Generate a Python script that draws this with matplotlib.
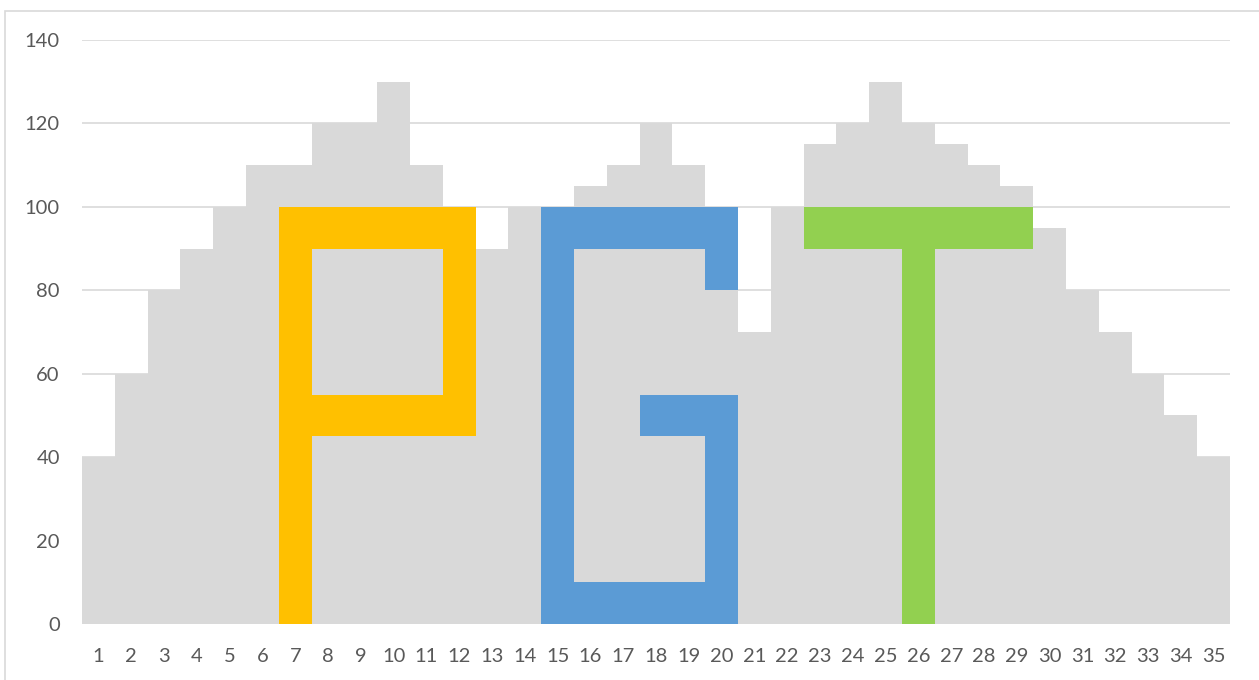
import matplotlib
matplotlib.use("Agg")
import matplotlib.pyplot as plt
from matplotlib.patches import Rectangle
import numpy as np

categories = [str(i) for i in range(1, 36)]

# Stacked layers (bottom to top); layers B, D, F are the coloured letter segments
layer_a = [40, 60, 80, 90, 100, 110, 0, 45, 45, 45, 45, 45, 90, 100, 0, 0, 0, 0, 0, 0,
           70, 100, 90, 90, 90, 0, 90, 90, 90, 95, 80, 70, 60, 50, 40]
layer_b = [0, 0, 0, 0, 0, 0, 100, 10, 10, 10, 10, 55, 0, 0, 100, 10, 10, 10, 10, 55,
           0, 0, 10, 10, 10, 100, 10, 10, 10, 0, 0, 0, 0, 0, 0]
layer_c = [0, 0, 0, 0, 0, 0, 10, 35, 35, 35, 35, 0, 0, 0, 0, 80, 80, 35, 35, 25,
           0, 0, 15, 20, 30, 20, 15, 10, 5, 0, 0, 0, 0, 0, 0]
layer_d = [0, 0, 0, 0, 0, 0, 0, 10, 10, 10, 10, 0, 0, 0, 0, 10, 10, 10, 10, 20,
           0, 0, 0, 0, 0, 0, 0, 0, 0, 0, 0, 0, 0, 0, 0]
layer_e = [0, 0, 0, 0, 0, 0, 0, 20, 20, 30, 10, 0, 0, 0, 0, 5, 10, 35, 35, 0,
           0, 0, 0, 0, 0, 0, 0, 0, 0, 0, 0, 0, 0, 0, 0]
layer_f = [0] * 17 + [10, 10] + [0] * 16
layer_g = [0] * 17 + [20, 10] + [0] * 16

# letter colour per bar: P (7-12), G (15-20), T (23-29)
letter = ['-'] * 6 + ['P'] * 6 + ['-'] * 2 + ['G'] * 6 + ['-'] * 2 + ['T'] * 7 + ['-'] * 6

GRAY = '#d9d9d9'
letter_colors = {'P': '#ffc000', 'G': '#5b9bd5', 'T': '#92d050', '-': GRAY}
bar_letter_colors = [letter_colors[l] for l in letter]

fig = plt.figure(figsize=(12.59, 6.8), dpi=100)
ax = fig.add_axes([82 / 1259, 1 - 624 / 680, (1230 - 82) / 1259, (624 - 40) / 680])

x = np.arange(1, 36)
layers = [layer_a, layer_b, layer_c, layer_d, layer_e, layer_f, layer_g]
colored = [False, True, False, True, False, True, False]
bottom = np.zeros(35)
for vals, is_col in zip(layers, colored):
    vals = np.array(vals, dtype=float)
    cols = bar_letter_colors if is_col else GRAY
    ax.bar(x, vals, bottom=bottom, width=1.0, color=cols,
           linewidth=0, zorder=2)
    bottom += vals

ax.set_xlim(0.5, 35.5)
ax.set_ylim(0, 140)
ax.set_yticks(range(0, 141, 20))
ax.set_xticks(x)
ax.set_xticklabels(categories)
ax.yaxis.grid(True, color='#d9d9d9', linewidth=1.2, zorder=0)
ax.set_axisbelow(True)
for s in ax.spines.values():
    s.set_visible(False)
ax.tick_params(axis='both', length=0, labelsize=14.5, colors='#595959',
               labelfontfamily='Lato')
ax.tick_params(axis='x', pad=17)
ax.tick_params(axis='y', pad=16)

# chart-area border
fig.patches.append(Rectangle((5 / 1259, -0.05), 1.2, 1 - 11 / 680 + 0.05,
                             transform=fig.transFigure, fill=False,
                             edgecolor='#d9d9d9', linewidth=1.2))

fig.savefig('out.png', dpi=100, facecolor='white')
